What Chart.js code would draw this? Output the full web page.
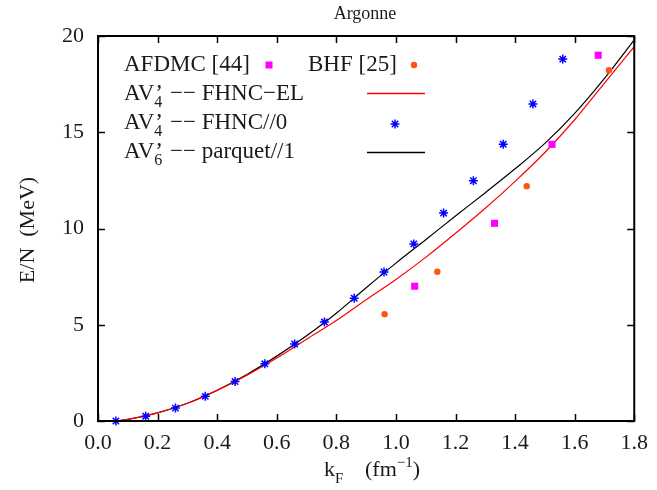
<!DOCTYPE html>
<html><head><meta charset="utf-8">
<script src="https://cdn.jsdelivr.net/npm/chart.js@4/dist/chart.umd.min.js"></script>
<style>html,body{margin:0;padding:0;background:#fff}#wrap{width:657px;height:490px}</style>
</head><body><div id="wrap"><canvas id="c" width="657" height="490"></canvas></div>
<script>
// ---- data ----
const kGrid    = [0.06, 0.1, 0.2, 0.3, 0.4, 0.5, 0.6, 0.7, 0.8, 0.9, 1.0, 1.1, 1.2, 1.3, 1.4, 1.5, 1.6, 1.7, 1.8];
const parquetE = [0.0, 0.08, 0.42, 0.92, 1.6, 2.42, 3.37, 4.43, 5.6, 6.92, 8.2, 9.42, 10.65, 11.86, 13.1, 14.42, 15.98, 17.8, 19.8];
const fhncElE  = [0.0, 0.08, 0.42, 0.92, 1.59, 2.38, 3.27, 4.25, 5.22, 6.3, 7.35, 8.5, 9.75, 11.05, 12.45, 13.95, 15.65, 17.55, 19.45];

const fhnc0K = [0.06, 0.16, 0.26, 0.36, 0.46, 0.56, 0.66, 0.76, 0.86, 0.96, 1.06, 1.16, 1.26, 1.36, 1.46, 1.56];
const fhnc0E = [0.0, 0.25, 0.67, 1.28, 2.05, 2.97, 4.0, 5.14, 6.38, 7.74, 9.2, 10.8, 12.48, 14.38, 16.47, 18.8];

const afdmcK = [1.063, 1.331, 1.524, 1.679];
const afdmcE = [7.0, 10.27, 14.37, 19.0];

const bhfK = [0.962, 1.139, 1.439, 1.715];
const bhfE = [5.55, 7.75, 12.2, 18.22];

const xTicks = [0.0, 0.2, 0.4, 0.6, 0.8, 1.0, 1.2, 1.4, 1.6, 1.8];
const yTicks = [0, 5, 10, 15, 20];

const pts = (xs, ys) => xs.map((x, i) => ({x: x, y: ys[i]}));

const SERIF = '"Liberation Serif", "Times New Roman", serif';
const TXT = '#1a1a1a';

const decor = {
  id: 'decor',
  afterDraw(chart) {
    const ctx = chart.ctx, a = chart.chartArea;
    const xs = chart.scales.x, ys = chart.scales.y;
    ctx.save();
    // frame
    ctx.strokeStyle = '#000'; ctx.lineWidth = 2;
    ctx.strokeRect(a.left, a.top, a.right - a.left, a.bottom - a.top);
    // inward ticks
    ctx.lineWidth = 1.5;
    const tl = 7;
    ctx.beginPath();
    xTicks.forEach(v => {
      const px = Math.round(xs.getPixelForValue(v)) + 0.5;
      ctx.moveTo(px, a.bottom); ctx.lineTo(px, a.bottom - tl);
      ctx.moveTo(px, a.top); ctx.lineTo(px, a.top + tl);
    });
    yTicks.forEach(v => {
      const py = Math.round(ys.getPixelForValue(v)) + 0.5;
      ctx.moveTo(a.left, py); ctx.lineTo(a.left + tl, py);
      ctx.moveTo(a.right, py); ctx.lineTo(a.right - tl, py);
    });
    ctx.stroke();

    ctx.fillStyle = TXT;
    ctx.textBaseline = 'alphabetic';
    // title
    ctx.font = '18px ' + SERIF;
    ctx.textAlign = 'center';
    ctx.fillText('Argonne', 365, 19);

    // y title
    ctx.save();
    ctx.translate(34, 230);
    ctx.rotate(-Math.PI / 2);
    ctx.font = '22px ' + SERIF;
    ctx.textAlign = 'center';
    ctx.fillText('E/N  (MeV)', 0, 0);
    ctx.restore();

    // x title  k_F   (fm^-1)
    ctx.textAlign = 'left';
    ctx.font = '22px ' + SERIF;
    ctx.fillText('k', 324, 476);
    ctx.font = '15px ' + SERIF;
    ctx.fillText('F', 335, 483);
    ctx.font = '22px ' + SERIF;
    ctx.fillText('(fm', 365, 476);
    let w = ctx.measureText('(fm').width;
    ctx.font = '15px ' + SERIF;
    ctx.fillText('\u22121', 365 + w, 467);
    let w2 = ctx.measureText('\u22121').width;
    ctx.font = '22px ' + SERIF;
    ctx.fillText(')', 365 + w + w2, 476);

    // legend
    const LF = '23px ' + SERIF, SF = '16px ' + SERIF;
    const lx = 124;
    const rows = [71, 100, 129, 158];
    ctx.font = LF;
    ctx.fillText('AFDMC [44]', lx, rows[0]);
    ctx.fillText('BHF [25]', 308, rows[0]);
    const avLine = (sub, rest, y) => {
      ctx.font = LF;
      ctx.fillText('AV', lx, y);
      let x = lx + ctx.measureText('AV').width;
      ctx.fillText('\u2019', x + 1, y);
      ctx.font = SF;
      ctx.fillText(sub, x, y + 7);
      x += 10;
      ctx.font = LF;
      ctx.fillText(' \u2212\u2212 ' + rest, x, y);
    };
    avLine('4', 'FHNC\u2212EL', rows[1]);
    avLine('4', 'FHNC//0', rows[2]);
    avLine('6', 'parquet//1', rows[3]);

    // legend markers
    const ds = chart.data.datasets;
    ctx.fillStyle = ds[0].backgroundColor;
    ctx.fillRect(265.5, 61.5, 7, 7);
    ctx.fillStyle = ds[1].backgroundColor;
    ctx.beginPath(); ctx.arc(414, 65, 3.2, 0, Math.PI * 2); ctx.fill();
    ctx.strokeStyle = ds[3].borderColor; ctx.lineWidth = 1.3;
    ctx.beginPath(); ctx.moveTo(367, 93.5); ctx.lineTo(425, 93.5); ctx.stroke();
    ctx.strokeStyle = ds[2].borderColor; ctx.lineWidth = 1.5;
    Chart.helpers.drawPoint(ctx, {pointStyle: 'star', radius: 4.5, rotation: 0, borderWidth: 1.5}, 395, 124);
    ctx.strokeStyle = ds[4].borderColor; ctx.lineWidth = 1.3;
    ctx.beginPath(); ctx.moveTo(367, 152.5); ctx.lineTo(425, 152.5); ctx.stroke();
    ctx.restore();
  }
};

new Chart(document.getElementById('c'), {
  type: 'scatter',
  data: {
    datasets: [
      {label: 'AFDMC [44]', data: pts(afdmcK, afdmcE), pointStyle: 'rect', radius: 5,
       backgroundColor: '#ff00ff', borderColor: '#ff00ff', borderWidth: 0, clip: false, order: 1},
      {label: 'BHF [25]', data: pts(bhfK, bhfE), pointStyle: 'circle', radius: 3.2,
       backgroundColor: '#ff5511', borderColor: '#ff5511', borderWidth: 0, clip: false, order: 1},
      {label: 'FHNC//0', data: pts(fhnc0K, fhnc0E), pointStyle: 'star', radius: 4.5,
       backgroundColor: '#0000ff', borderColor: '#0000ff', borderWidth: 1.5, clip: false, order: 0},
      {label: 'FHNC-EL', data: pts(kGrid, fhncElE), showLine: true, pointRadius: 0,
       borderColor: '#ff0000', backgroundColor: '#ff0000', borderWidth: 1.2,
       cubicInterpolationMode: 'monotone', order: 2},
      {label: 'parquet', data: pts(kGrid, parquetE), showLine: true, pointRadius: 0,
       borderColor: '#000000', backgroundColor: '#000000', borderWidth: 1.2,
       cubicInterpolationMode: 'monotone', order: 2}
    ]
  },
  options: {
    responsive: false, animation: false, devicePixelRatio: 1,
    layout: {padding: {left: 0, top: 36, right: 15, bottom: 0}},
    plugins: {legend: {display: false}, tooltip: {enabled: false}, title: {display: false}},
    scales: {
      x: {
        type: 'linear', min: 0, max: 1.8,
        grid: {display: false, drawTicks: false}, border: {display: false},
        afterBuildTicks: s => { s.ticks = xTicks.map(v => ({value: v})); },
        afterFit: s => { s.height = 69; },
        ticks: {autoSkip: false, maxRotation: 0, padding: 9, color: TXT,
                font: {family: SERIF, size: 22},
                callback: v => Number(v).toFixed(1)}
      },
      y: {
        type: 'linear', min: 0, max: 20,
        grid: {display: false, drawTicks: false}, border: {display: false},
        afterBuildTicks: s => { s.ticks = yTicks.map(v => ({value: v})); },
        afterFit: s => { s.width = 98; },
        ticks: {padding: 14, color: TXT, font: {family: SERIF, size: 22},
                callback: v => String(v)}
      }
    }
  },
  plugins: [decor]
});
</script>
</body></html>
